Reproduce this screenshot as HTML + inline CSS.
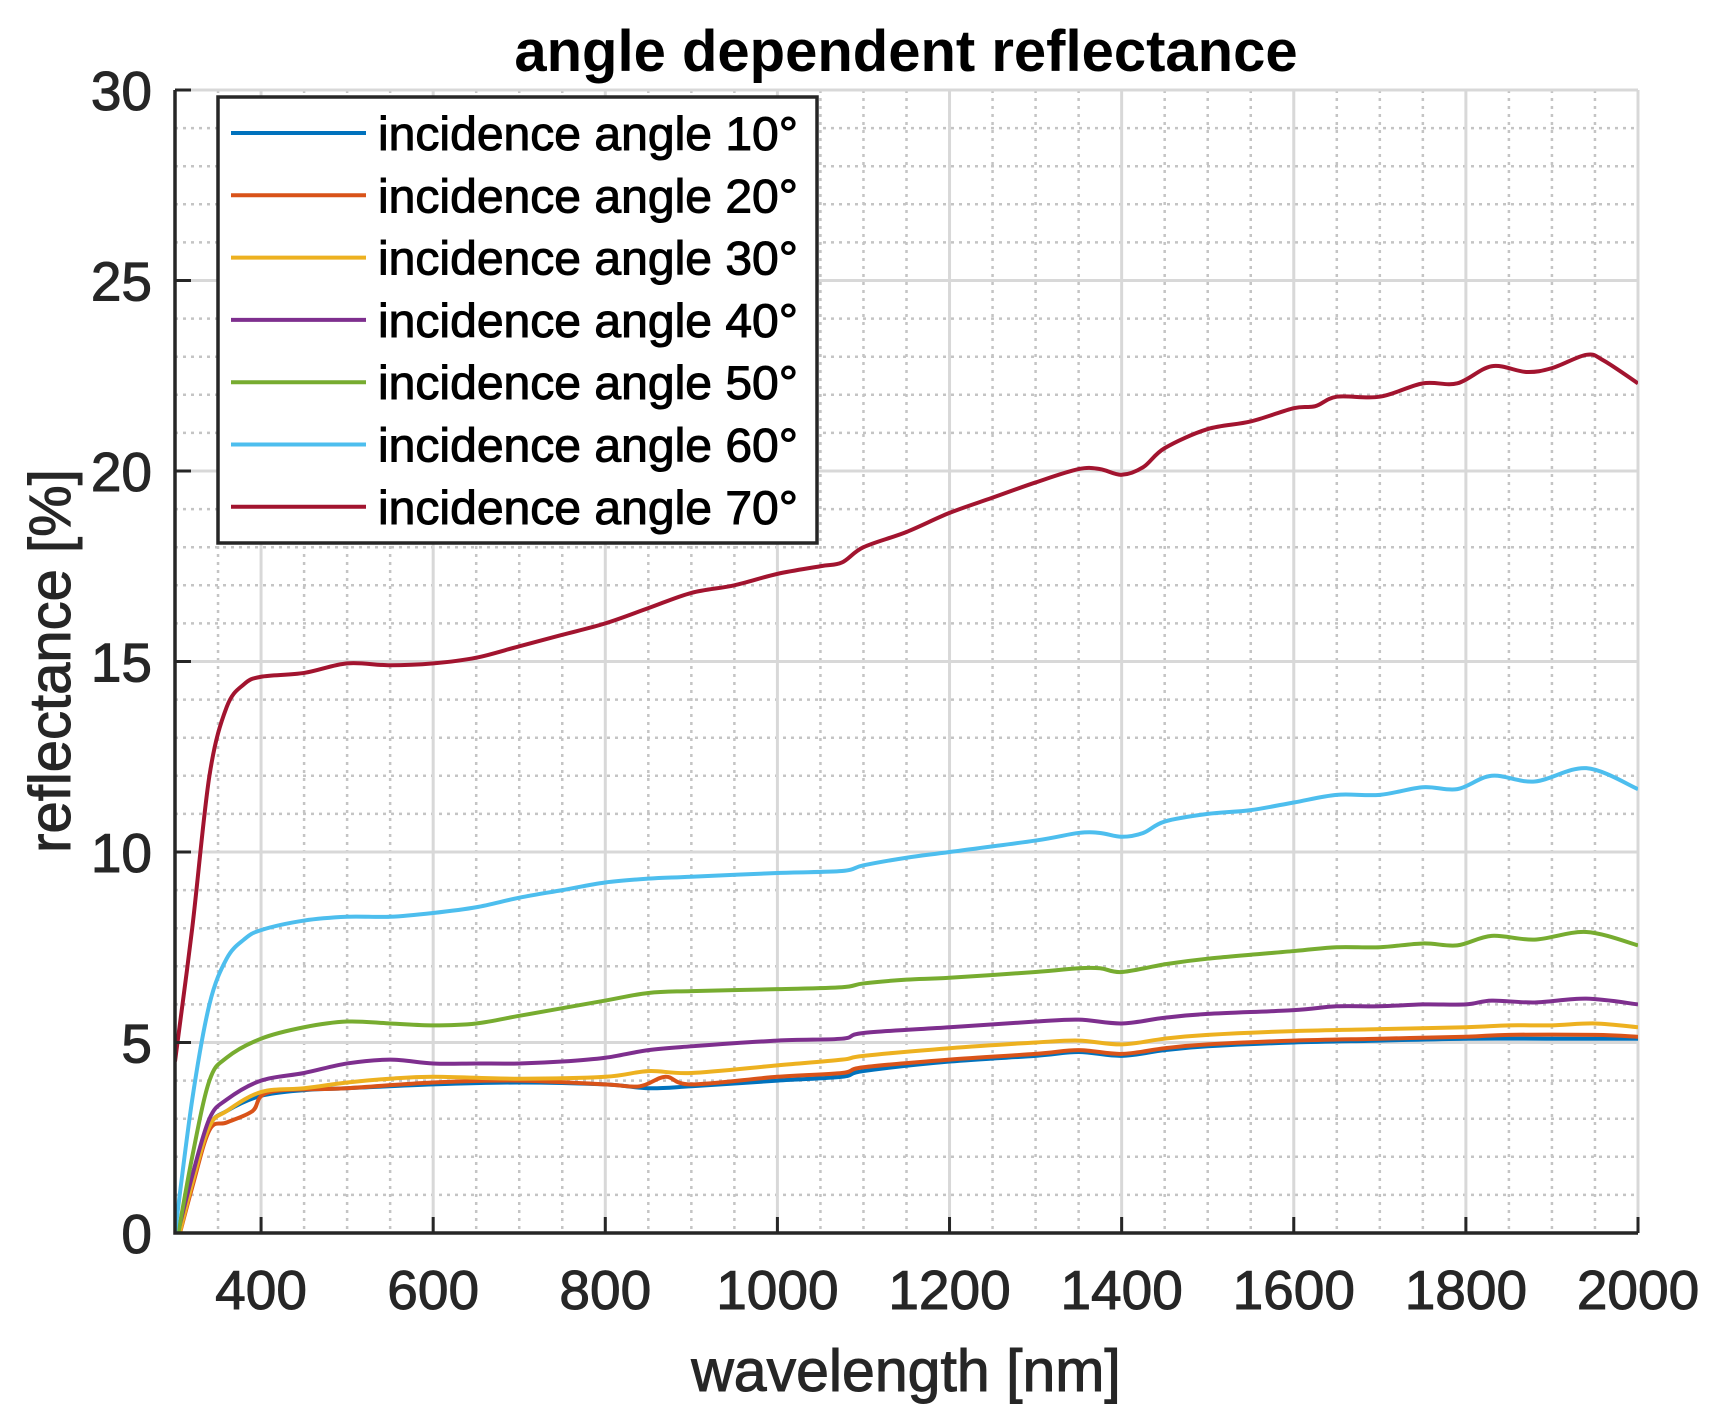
<!DOCTYPE html>
<html><head><meta charset="utf-8"><style>body{margin:0;background:#fff}svg{display:block}</style></head>
<body>
<svg id="s" width="1717" height="1417" xmlns="http://www.w3.org/2000/svg" font-family="Liberation Sans, Arial, sans-serif">
<defs><clipPath id="c"><rect x="175" y="90" width="1463" height="1143"/></clipPath></defs>
<g id="grid"></g>
<g id="lines" clip-path="url(#c)" fill="none" stroke-width="4" stroke-linejoin="round"></g>
<g id="axes" stroke="#262626" stroke-width="0"></g>
<text x="906" y="71" font-size="58" font-weight="bold" text-anchor="middle" fill="#000">angle dependent reflectance</text>
<text x="906" y="1391" font-size="59" text-anchor="middle" fill="#262626" stroke="#262626" stroke-width="1">wavelength [nm]</text>
<text transform="translate(70,661) rotate(-90)" font-size="58" text-anchor="middle" fill="#262626" stroke="#262626" stroke-width="1">reflectance [%]</text>
<g id="leg"></g>
</svg>
<script>
var NS="http://www.w3.org/2000/svg";
function X(v){return 175+(v-300)*1463/1700}
function Y(v){return 1233-v*1143/30}
function el(p,t,a,txt){var e=document.createElementNS(NS,t);for(var k in a)e.setAttribute(k,a[k]);if(txt!=null)e.textContent=txt;document.getElementById(p).appendChild(e);return e}
for(var v=300;v<=2000;v+=50){if(v%200==0)continue;el("grid","line",{x1:X(v),x2:X(v),y1:90,y2:1233,stroke:"#c4c4c4","stroke-width":2.5,"stroke-dasharray":"3 5"})}
for(var v=1;v<30;v++){if(v%5==0)continue;el("grid","line",{x1:175,x2:1638,y1:Y(v),y2:Y(v),stroke:"#c4c4c4","stroke-width":2.5,"stroke-dasharray":"3 5"})}
for(var v=400;v<=2000;v+=200){el("grid","line",{x1:X(v),x2:X(v),y1:90,y2:1233,stroke:"#d8d8d8","stroke-width":3});
 el("axes","line",{x1:X(v),x2:X(v),y1:1233,y2:1217,stroke:"#262626","stroke-width":3});
 el("axes","text",{x:X(v),y:1309,"font-size":55,"text-anchor":"middle",fill:"#262626","stroke-width":1},String(v))}
for(var v=0;v<=30;v+=5){el("grid","line",{x1:175,x2:1638,y1:Y(v),y2:Y(v),stroke:"#d8d8d8","stroke-width":3});
 el("axes","line",{x1:175,x2:191,y1:Y(v),y2:Y(v),stroke:"#262626","stroke-width":3});
 el("axes","text",{x:152,y:Y(v)+20,"font-size":55,"text-anchor":"end",fill:"#262626","stroke-width":1},String(v))}
el("axes","path",{d:"M175 90V1233H1638",fill:"none",stroke:"#262626","stroke-width":3.5});
var D=[
["#0072BD",[300,-0.3,320,1.3,340,2.8,360,3.2,400,3.6,450,3.75,500,3.8,600,3.9,700,3.95,800,3.9,850,3.8,900,3.85,1000,4.0,1075,4.1,1100,4.25,1200,4.5,1300,4.65,1350,4.75,1400,4.65,1450,4.8,1500,4.9,1600,5.0,1700,5.05,1800,5.1,1900,5.1,2000,5.1]],
["#D95319",[300,-0.5,320,1.2,340,2.7,360,2.9,390,3.2,410,3.7,500,3.8,600,3.95,700,4.0,800,3.9,840,3.85,870,4.1,900,3.9,1000,4.1,1075,4.2,1100,4.35,1200,4.55,1300,4.7,1350,4.8,1400,4.7,1450,4.85,1500,4.95,1600,5.05,1700,5.1,1800,5.15,1850,5.2,1950,5.2,2000,5.15]],
["#EDB120",[300,-0.5,320,1.3,340,2.8,360,3.2,400,3.7,450,3.8,500,3.95,550,4.05,600,4.1,700,4.05,800,4.1,850,4.25,900,4.2,1000,4.4,1075,4.55,1100,4.65,1200,4.85,1300,5.0,1350,5.05,1400,4.95,1450,5.1,1500,5.2,1600,5.3,1700,5.35,1800,5.4,1850,5.45,1900,5.45,1950,5.5,2000,5.4]],
["#7E2F8E",[300,-0.3,320,1.5,340,3,360,3.5,400,4.0,450,4.2,500,4.45,550,4.55,600,4.45,650,4.45,700,4.45,750,4.5,800,4.6,850,4.8,900,4.9,1000,5.05,1075,5.1,1100,5.25,1200,5.4,1300,5.55,1350,5.6,1400,5.5,1450,5.65,1500,5.75,1600,5.85,1650,5.95,1700,5.95,1750,6.0,1800,6.0,1830,6.1,1880,6.05,1940,6.15,2000,6.0]],
["#77AC30",[300,-0.5,320,2,340,4,360,4.6,400,5.1,450,5.4,500,5.55,550,5.5,600,5.45,650,5.5,700,5.7,750,5.9,800,6.1,850,6.3,900,6.35,1000,6.4,1075,6.45,1100,6.55,1150,6.65,1200,6.7,1300,6.85,1350,6.95,1375,6.95,1400,6.85,1450,7.05,1500,7.2,1600,7.4,1650,7.5,1700,7.5,1750,7.6,1790,7.55,1830,7.8,1880,7.7,1940,7.9,2000,7.55]],
["#4DBEEE",[300,0,320,3.5,340,6,360,7.2,380,7.7,400,7.95,450,8.2,500,8.3,550,8.3,600,8.4,650,8.55,700,8.8,750,9.0,800,9.2,850,9.3,900,9.35,1000,9.45,1075,9.5,1100,9.65,1150,9.85,1200,10.0,1300,10.3,1350,10.5,1375,10.5,1400,10.4,1425,10.5,1450,10.8,1500,11.0,1550,11.1,1600,11.3,1650,11.5,1700,11.5,1750,11.7,1790,11.65,1830,12.0,1880,11.85,1940,12.2,2000,11.65]],
["#A2142F",[300,4.5,320,8,340,12,360,13.8,380,14.4,400,14.6,450,14.7,500,14.95,550,14.9,600,14.95,650,15.1,700,15.4,750,15.7,800,16.0,850,16.4,900,16.8,950,17.0,1000,17.3,1050,17.5,1075,17.6,1100,18.0,1150,18.4,1200,18.9,1250,19.3,1300,19.7,1350,20.05,1375,20.05,1400,19.9,1425,20.1,1450,20.6,1500,21.1,1550,21.3,1600,21.65,1625,21.7,1650,21.95,1700,21.95,1750,22.3,1790,22.3,1830,22.75,1870,22.6,1900,22.7,1940,23.05,1960,22.9,2000,22.3]]];
var g=document.getElementById("leg");
el("leg","rect",{x:218,y:97,width:599,height:446,fill:"#fff"});
D.forEach(function(s,i){var a=s[1],p=[];for(var k=0;k<a.length;k+=2)p.push([X(a[k]),Y(a[k+1])]);
 var d="M"+p[0][0]+" "+p[0][1];
 for(var k=0;k<p.length-1;k++){var p0=p[k-1]||p[k],p1=p[k],p2=p[k+1],p3=p[k+2]||p2;
  d+=" C"+(p1[0]+(p2[0]-p0[0])/6)+" "+(p1[1]+(p2[1]-p0[1])/6)+" "+(p2[0]-(p3[0]-p1[0])/6)+" "+(p2[1]-(p3[1]-p1[1])/6)+" "+p2[0]+" "+p2[1];}
 el("lines","path",{d:d,stroke:s[0]});
 var y=133+i*62.3;
 el("leg","line",{x1:231,x2:366,y1:y,y2:y,stroke:s[0],"stroke-width":4});
 el("leg","text",{x:378,y:y+17,"font-size":47,fill:"#000",stroke:"#000","stroke-width":1,textLength:420,lengthAdjust:"spacingAndGlyphs"},"incidence angle "+(i+1)*10+"°");
});
el("leg","rect",{x:218,y:97,width:599,height:446,fill:"none",stroke:"#262626","stroke-width":3.5});
</script>
</body></html>
